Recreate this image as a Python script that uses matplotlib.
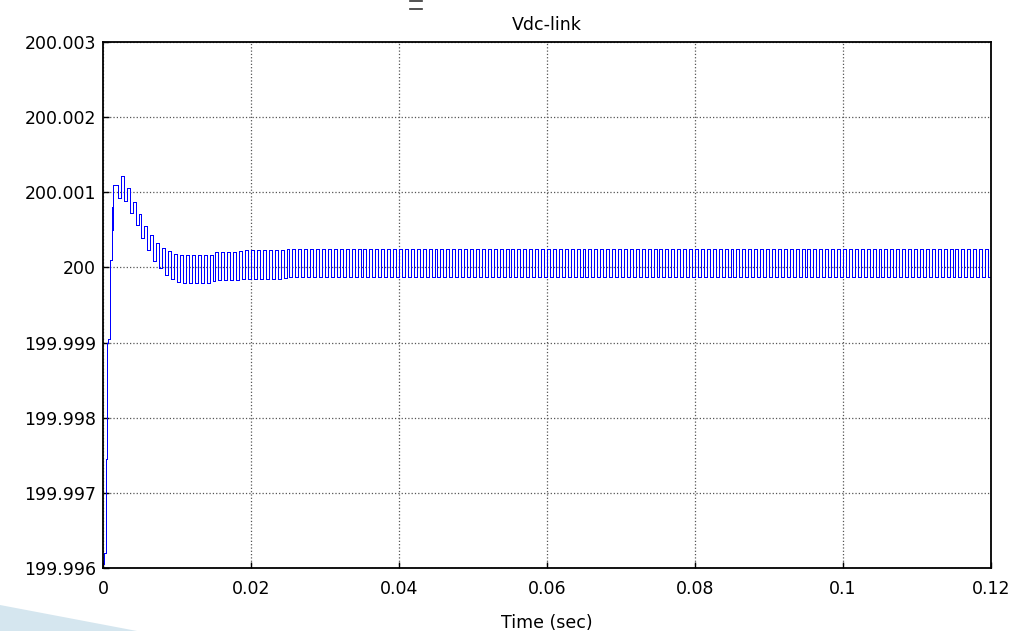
import numpy as np
import matplotlib.pyplot as plt
from matplotlib.patches import Polygon
from matplotlib.lines import Line2D

# start-up transient of the dc-link voltage (time in s, voltage in V)
t_start = [0.0, 0.0002, 0.00034, 0.00047, 0.0006, 0.00074, 0.00088, 0.001, 0.00115, 0.00128, 0.0014]
v_start = [199.99605, 199.9962, 199.9974, 199.99745, 199.9990, 199.99905, 200.0000, 200.0001, 200.0008, 200.0005, 200.0011]

# ripple envelope after the start-up
t_env = [0.0016, 0.0021, 0.00275, 0.0041, 0.00545, 0.0068, 0.00815, 0.00995, 0.0118, 0.0145, 0.0149, 0.018, 0.0185, 0.0235, 0.025, 0.12]
v_upper = [200.00110, 200.00126, 200.00116, 200.00085, 200.00058, 200.00036, 200.00024, 200.00017, 200.00016, 200.00016,
           200.00020, 200.00020, 200.00023, 200.00023, 200.00024, 200.00024]
v_lower = [200.00085, 200.00095, 200.00089, 200.00063, 200.00034, 200.00009, 199.99992, 199.99980, 199.99979, 199.99979,
           199.99983, 199.99983, 199.99985, 199.99985, 199.99987, 199.99987]

x_ticks = [0, 0.02, 0.04, 0.06, 0.08, 0.1, 0.12]
x_labels = ['0', '0.02', '0.04', '0.06', '0.08', '0.1', '0.12']
y_ticks = [199.996, 199.997, 199.998, 199.999, 200.0, 200.001, 200.002, 200.003]
y_labels = ['199.996', '199.997', '199.998', '199.999', '200', '200.001', '200.002', '200.003']

# switching ripple: alternate between upper and lower envelope
half_period = 0.0004
t_rip = np.arange(t_env[0], 0.1205, half_period)
hi = np.interp(t_rip, t_env, v_upper)
lo = np.interp(t_rip, t_env, v_lower)
v_rip = np.where(np.arange(len(t_rip)) % 2 == 0, hi, lo)

t = np.concatenate((t_start, t_rip))
v = np.concatenate((v_start, v_rip))

plt.rcParams['font.family'] = 'DejaVu Sans'
fig = plt.figure(figsize=(10.27, 6.31), dpi=100)
ax = fig.add_axes([103/1027, 1 - 568/631, 888/1027, 526/631])

ax.plot(t, v, color='#0000ff', lw=0.72, drawstyle='steps-post', antialiased=False)

ax.set_xlim(0, 0.12)
ax.set_ylim(199.996, 200.003)
ax.set_xticks(x_ticks)
ax.set_xticklabels(x_labels)
ax.set_yticks(y_ticks)
ax.set_yticklabels(y_labels)
ax.tick_params(direction='in', length=4, width=1, labelsize=12.5, colors='black')
ax.tick_params(axis='x', pad=9)
ax.tick_params(axis='y', pad=5)
ax.grid(True, color='#555555', linestyle=':', linewidth=0.9)
for s in ax.spines.values():
    s.set_linewidth(1.3)

ax.set_title('Vdc-link', fontsize=12.5, pad=9)
ax.set_xlabel('Time (sec)', fontsize=12.5, labelpad=11)

# light blue corner of the slide background
fig.patches.append(Polygon([(0, 1 - 605/631), (137/1027, 0), (0, 0)], closed=True,
                           transform=fig.transFigure, facecolor='#d5e6ef', edgecolor='none'))
# small toolbar mark above the title
for yy in (630.5/631, 622.5/631):
    fig.add_artist(Line2D([410/1027, 422/1027], [yy, yy], transform=fig.transFigure, color='#333333', lw=1.2))

fig.savefig('out.png', dpi=100)
